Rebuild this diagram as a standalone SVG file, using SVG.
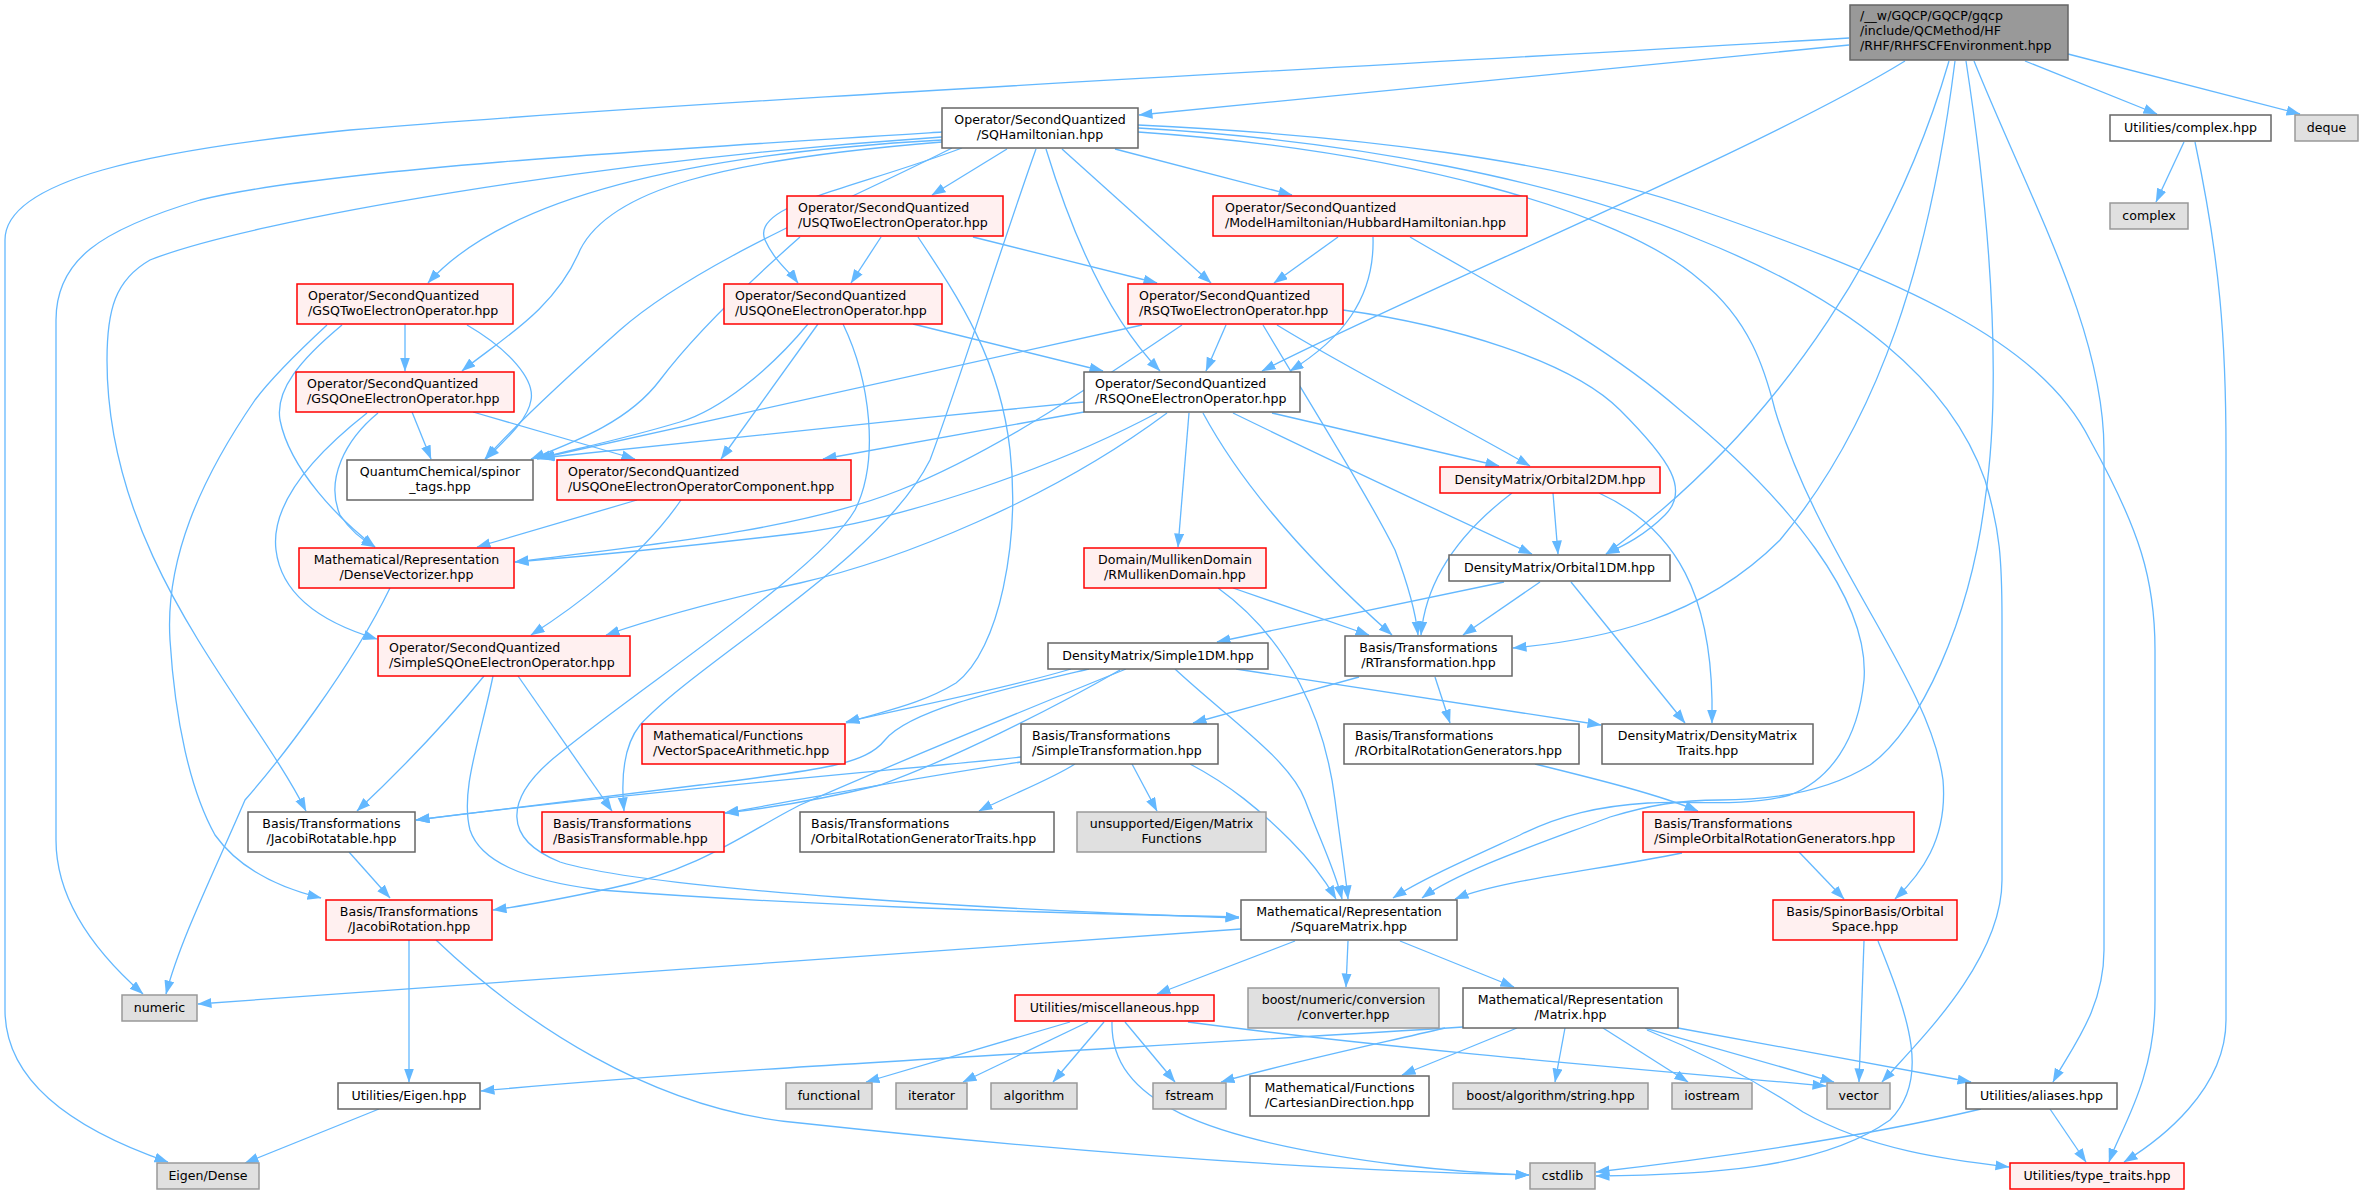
<svg xmlns="http://www.w3.org/2000/svg" width="2363" height="1195" viewBox="0 0 2363 1195">
<defs>
<marker id="ah" markerUnits="userSpaceOnUse" markerWidth="14" markerHeight="11" refX="13.5" refY="5" orient="auto">
<path d="M0,0 L14,5 L0,10 z" fill="#63b8ff"/>
</marker>
<style>
.e{fill:none;stroke:#63b8ff;stroke-width:1.3;marker-end:url(#ah)}
.nd{fill:#ffffff;stroke:#666666;stroke-width:1.5}
.nr{fill:#fff0f0;stroke:#ff0000;stroke-width:1.5}
.nx{fill:#e0e0e0;stroke:#999999;stroke-width:1.5}
.nroot{fill:#999999;stroke:#666666;stroke-width:1.5}
text{font-family:"DejaVu Sans","Liberation Sans",sans-serif;font-size:12.6px;fill:#000000}
.m{text-anchor:middle}
</style>
</defs>
<rect width="2363" height="1195" fill="#ffffff"/>
<g id="edges">
<path class="e" d="M1849,38 C1400,65 700,100 350,130 C150,150 5,180 5,240 L5,1010 C5,1090 90,1135 168,1162"/>
<path class="e" d="M1849,45 L1139,115"/>
<path class="e" d="M1905,61 C1760,150 1420,290 1262,371"/>
<path class="e" d="M1949,61 C1900,230 1790,420 1606,554"/>
<path class="e" d="M1955,61 C1930,260 1880,420 1780,540 C1700,620 1600,640 1513,648"/>
<path class="e" d="M1966,61 C1995,250 2000,400 1985,500 C1970,620 1920,730 1870,765 C1830,790 1780,800 1720,800 C1680,800 1650,805 1610,817 C1550,840 1460,870 1422,898"/>
<path class="e" d="M1974,61 C2030,200 2104,330 2104,450 L2104,950 C2104,1010 2070,1050 2053,1082"/>
<path class="e" d="M2025,61 L2157,114"/>
<path class="e" d="M2068,54 L2300,114"/>
<path class="e" d="M2184,142 L2156,202"/>
<path class="e" d="M2195,142 C2220,260 2226,340 2226,450 L2226,1020 C2226,1090 2160,1140 2124,1162"/>
<path class="e" d="M942,132 C650,150 320,170 200,200 C100,230 56,260 56,320 L56,840 C56,910 110,965 143,994"/>
<path class="e" d="M942,137 C600,160 250,220 150,260 C115,280 107,310 107,360 C107,560 250,700 306,811"/>
<path class="e" d="M942,140 C760,150 520,180 428,283"/>
<path class="e" d="M942,142 C720,160 610,190 580,250 C555,310 500,340 462,371"/>
<path class="e" d="M952,148 C850,200 700,260 620,330 C575,370 520,420 485,459"/>
<path class="e" d="M962,148 C850,190 750,205 765,240 C775,262 790,272 798,283"/>
<path class="e" d="M1007,149 L932,195"/>
<path class="e" d="M1036,149 C1000,250 960,380 930,460 C880,560 700,660 640,725 C620,750 622,790 624,811"/>
<path class="e" d="M1046,149 C1080,260 1120,330 1160,371"/>
<path class="e" d="M1062,149 L1211,283"/>
<path class="e" d="M1115,149 L1292,195"/>
<path class="e" d="M1138,125 C1350,135 1560,160 1700,210 C1900,280 2040,340 2090,440 C2140,530 2155,580 2155,650 L2155,1000 C2155,1080 2120,1130 2109,1162"/>
<path class="e" d="M1138,128 C1350,140 1560,180 1700,240 C1850,300 1950,380 1985,480 C2000,530 2002,560 2002,620 L2002,880 C2002,960 1920,1040 1882,1082"/>
<path class="e" d="M1138,132 C1400,150 1620,210 1700,280 C1750,320 1765,370 1775,410 C1820,560 1930,680 1943,780 C1948,840 1920,875 1895,899"/>
<path class="e" d="M843,324 C870,380 880,460 855,510 C820,570 650,680 560,753 C500,800 505,840 560,862 C650,890 1000,910 1239,918"/>
<path class="e" d="M493,676 C480,740 460,790 470,830 C480,860 520,880 600,890 C800,905 1000,912 1239,917"/>
<path class="e" d="M881,237 L851,283"/>
<path class="e" d="M973,237 L1157,283"/>
<path class="e" d="M800,237 C740,290 690,340 660,380 C630,420 580,440 531,459"/>
<path class="e" d="M918,237 C960,300 1000,360 1010,450 C1020,540 1000,650 956,683 C920,705 880,712 846,723"/>
<path class="e" d="M405,324 L405,371"/>
<path class="e" d="M467,325 C510,350 535,380 531,400 C528,420 505,440 486,459"/>
<path class="e" d="M342,325 C300,360 275,390 280,420 C290,470 340,520 375,547"/>
<path class="e" d="M327,325 C300,350 270,380 255,400 C200,480 165,560 170,640 C175,720 190,790 215,835 C240,870 280,888 321,898"/>
<path class="e" d="M412,412 L431,459"/>
<path class="e" d="M473,412 L635,459"/>
<path class="e" d="M378,413 C345,440 325,480 340,515 C350,530 362,540 375,547"/>
<path class="e" d="M367,413 C320,450 270,500 276,550 C282,600 330,625 377,639"/>
<path class="e" d="M808,324 C770,370 720,410 680,422 C620,440 570,450 537,459"/>
<path class="e" d="M818,324 L721,459"/>
<path class="e" d="M913,324 L1103,371"/>
<path class="e" d="M1338,237 L1274,283"/>
<path class="e" d="M1373,237 C1375,300 1340,340 1290,371"/>
<path class="e" d="M1410,237 C1500,290 1600,340 1680,410 C1790,500 1870,600 1864,680 C1858,740 1830,780 1790,795 C1740,808 1690,800 1648,803 C1600,806 1560,815 1520,835 C1470,858 1420,880 1393,898"/>
<path class="e" d="M1226,325 L1206,371"/>
<path class="e" d="M1142,325 L541,458"/>
<path class="e" d="M1182,325 C1100,380 1000,450 900,490 C800,530 650,545 515,562"/>
<path class="e" d="M1263,325 C1320,420 1370,500 1395,550 C1410,590 1416,615 1418,635"/>
<path class="e" d="M1277,325 C1350,370 1450,420 1530,466"/>
<path class="e" d="M1343,310 C1450,325 1570,360 1620,410 C1670,460 1690,490 1665,515 C1645,535 1625,545 1606,554"/>
<path class="e" d="M1084,402 C900,420 700,440 541,458"/>
<path class="e" d="M1084,412 L823,459"/>
<path class="e" d="M1157,413 C1050,470 900,520 800,533 C700,545 600,555 515,562"/>
<path class="e" d="M1167,413 C1050,500 900,560 800,583 C720,600 650,620 606,635"/>
<path class="e" d="M1189,413 L1178,547"/>
<path class="e" d="M1203,413 C1250,500 1330,580 1392,635"/>
<path class="e" d="M1233,413 C1350,470 1480,530 1532,554"/>
<path class="e" d="M1272,413 L1499,466"/>
<path class="e" d="M637,500 L477,547"/>
<path class="e" d="M681,500 C640,560 570,610 531,635"/>
<path class="e" d="M1512,493 C1450,540 1425,590 1421,635"/>
<path class="e" d="M1553,493 L1558,554"/>
<path class="e" d="M1599,493 C1680,530 1710,600 1712,700 L1712,723"/>
<path class="e" d="M390,588 C350,670 280,760 245,800 C215,870 180,940 166,994"/>
<path class="e" d="M1233,588 L1369,635"/>
<path class="e" d="M1218,588 C1290,640 1325,720 1335,800 C1340,840 1345,870 1348,899"/>
<path class="e" d="M1504,582 L1217,642"/>
<path class="e" d="M1540,582 L1463,635"/>
<path class="e" d="M1571,582 L1685,723"/>
<path class="e" d="M484,676 C440,730 390,780 357,811"/>
<path class="e" d="M518,676 L612,811"/>
<path class="e" d="M1071,669 C1000,690 920,705 846,722"/>
<path class="e" d="M1089,669 C1000,690 910,710 885,740 C865,765 820,770 700,785 C600,798 500,810 416,820"/>
<path class="e" d="M1120,670 C1050,710 950,760 880,785 C820,800 770,808 725,813"/>
<path class="e" d="M1126,669 C1000,720 880,770 800,805 C750,830 700,870 612,888 C570,897 530,905 493,910"/>
<path class="e" d="M1175,669 C1230,720 1290,760 1305,800 C1320,840 1335,870 1342,899"/>
<path class="e" d="M1236,669 L1601,725"/>
<path class="e" d="M1359,677 L1193,723"/>
<path class="e" d="M1435,677 L1450,723"/>
<path class="e" d="M1021,757 C900,770 650,790 416,820"/>
<path class="e" d="M1021,762 C900,780 800,800 725,813"/>
<path class="e" d="M1075,764 C1050,780 1010,795 979,811"/>
<path class="e" d="M1132,764 L1157,811"/>
<path class="e" d="M1190,764 C1230,785 1260,810 1290,840 C1310,860 1325,880 1336,899"/>
<path class="e" d="M1535,764 C1600,780 1660,795 1698,811"/>
<path class="e" d="M349,852 L390,898"/>
<path class="e" d="M1799,852 L1844,899"/>
<path class="e" d="M1682,853 C1600,870 1500,880 1455,899"/>
<path class="e" d="M409,940 L409,1082"/>
<path class="e" d="M436,940 C520,1020 650,1110 800,1123 C1050,1150 1300,1170 1529,1175"/>
<path class="e" d="M1241,929 L198,1004"/>
<path class="e" d="M1295,941 L1157,994"/>
<path class="e" d="M1348,941 L1346,987"/>
<path class="e" d="M1400,941 L1514,987"/>
<path class="e" d="M1070,1022 L866,1082"/>
<path class="e" d="M1088,1022 L963,1082"/>
<path class="e" d="M1104,1022 L1053,1082"/>
<path class="e" d="M1125,1022 L1175,1082"/>
<path class="e" d="M1112,1022 C1110,1100 1200,1140 1400,1165 C1460,1172 1500,1174 1529,1175"/>
<path class="e" d="M1188,1022 C1400,1050 1650,1070 1826,1086"/>
<path class="e" d="M1463,1027 C1100,1050 700,1070 481,1091"/>
<path class="e" d="M1445,1028 C1350,1050 1280,1065 1221,1082"/>
<path class="e" d="M1517,1028 L1402,1075"/>
<path class="e" d="M1565,1028 L1555,1082"/>
<path class="e" d="M1603,1028 L1688,1082"/>
<path class="e" d="M1645,1028 L1834,1082"/>
<path class="e" d="M1678,1028 L1971,1082"/>
<path class="e" d="M1647,1030 C1720,1060 1770,1090 1803,1112 C1870,1150 1950,1160 2009,1167"/>
<path class="e" d="M1864,941 L1859,1082"/>
<path class="e" d="M1878,941 C1910,1020 1930,1080 1890,1120 C1820,1170 1700,1175 1596,1176"/>
<path class="e" d="M1981,1109 C1850,1140 1700,1160 1596,1172"/>
<path class="e" d="M2050,1109 L2086,1162"/>
<path class="e" d="M379,1109 L245,1163"/>
</g>
<g id="n_root"><rect class="nroot" x="1850" y="5" width="218" height="55"/><text x="1860" y="20">/__w/GQCP/GQCP/gqcp</text><text x="1860" y="35">/include/QCMethod/HF</text><text x="1860" y="50">/RHF/RHFSCFEnvironment.hpp</text></g>
<g id="n_sqham"><rect class="nd" x="942" y="108" width="196" height="40"/><text class="m" x="1040" y="124">Operator/SecondQuantized</text><text class="m" x="1040" y="139">/SQHamiltonian.hpp</text></g>
<g id="n_usqtwo"><rect class="nr" x="787" y="196" width="216" height="40"/><text x="798" y="212">Operator/SecondQuantized</text><text x="798" y="227">/USQTwoElectronOperator.hpp</text></g>
<g id="n_hubbard"><rect class="nr" x="1213" y="196" width="314" height="40"/><text x="1225" y="212">Operator/SecondQuantized</text><text x="1225" y="227">/ModelHamiltonian/HubbardHamiltonian.hpp</text></g>
<g id="n_gsqtwo"><rect class="nr" x="297" y="284" width="216" height="40"/><text x="308" y="300">Operator/SecondQuantized</text><text x="308" y="315">/GSQTwoElectronOperator.hpp</text></g>
<g id="n_usqone"><rect class="nr" x="724" y="284" width="218" height="40"/><text x="735" y="300">Operator/SecondQuantized</text><text x="735" y="315">/USQOneElectronOperator.hpp</text></g>
<g id="n_rsqtwo"><rect class="nr" x="1128" y="284" width="215" height="40"/><text x="1139" y="300">Operator/SecondQuantized</text><text x="1139" y="315">/RSQTwoElectronOperator.hpp</text></g>
<g id="n_gsqone"><rect class="nr" x="296" y="372" width="218" height="40"/><text x="307" y="388">Operator/SecondQuantized</text><text x="307" y="403">/GSQOneElectronOperator.hpp</text></g>
<g id="n_rsqone"><rect class="nd" x="1084" y="372" width="216" height="40"/><text x="1095" y="388">Operator/SecondQuantized</text><text x="1095" y="403">/RSQOneElectronOperator.hpp</text></g>
<g id="n_spinor"><rect class="nd" x="347" y="460" width="186" height="40"/><text class="m" x="440" y="476">QuantumChemical/spinor</text><text class="m" x="440" y="491">_tags.hpp</text></g>
<g id="n_usqonecomp"><rect class="nr" x="557" y="460" width="294" height="40"/><text x="568" y="476">Operator/SecondQuantized</text><text x="568" y="491">/USQOneElectronOperatorComponent.hpp</text></g>
<g id="n_orb2dm"><rect class="nr" x="1440" y="467" width="220" height="26"/><text class="m" x="1550" y="484">DensityMatrix/Orbital2DM.hpp</text></g>
<g id="n_densevec"><rect class="nr" x="299" y="548" width="215" height="40"/><text class="m" x="406.5" y="564">Mathematical/Representation</text><text class="m" x="406.5" y="579">/DenseVectorizer.hpp</text></g>
<g id="n_rmulliken"><rect class="nr" x="1084" y="548" width="182" height="40"/><text class="m" x="1175" y="564">Domain/MullikenDomain</text><text class="m" x="1175" y="579">/RMullikenDomain.hpp</text></g>
<g id="n_orb1dm"><rect class="nd" x="1449" y="555" width="221" height="26"/><text class="m" x="1559.5" y="572">DensityMatrix/Orbital1DM.hpp</text></g>
<g id="n_simplesqone"><rect class="nr" x="378" y="636" width="252" height="40"/><text x="389" y="652">Operator/SecondQuantized</text><text x="389" y="667">/SimpleSQOneElectronOperator.hpp</text></g>
<g id="n_simple1dm"><rect class="nd" x="1048" y="643" width="220" height="26"/><text class="m" x="1158" y="660">DensityMatrix/Simple1DM.hpp</text></g>
<g id="n_rtrans"><rect class="nd" x="1345" y="636" width="167" height="40"/><text class="m" x="1428.5" y="652">Basis/Transformations</text><text class="m" x="1428.5" y="667">/RTransformation.hpp</text></g>
<g id="n_vsa"><rect class="nr" x="642" y="724" width="203" height="40"/><text x="653" y="740">Mathematical/Functions</text><text x="653" y="755">/VectorSpaceArithmetic.hpp</text></g>
<g id="n_simpletrans"><rect class="nd" x="1021" y="724" width="197" height="40"/><text x="1032" y="740">Basis/Transformations</text><text x="1032" y="755">/SimpleTransformation.hpp</text></g>
<g id="n_rorbrot"><rect class="nd" x="1344" y="724" width="235" height="40"/><text x="1355" y="740">Basis/Transformations</text><text x="1355" y="755">/ROrbitalRotationGenerators.hpp</text></g>
<g id="n_dmtraits"><rect class="nd" x="1602" y="724" width="211" height="40"/><text class="m" x="1707.5" y="740">DensityMatrix/DensityMatrix</text><text class="m" x="1707.5" y="755">Traits.hpp</text></g>
<g id="n_jacobirotatable"><rect class="nd" x="248" y="812" width="167" height="40"/><text class="m" x="331.5" y="828">Basis/Transformations</text><text class="m" x="331.5" y="843">/JacobiRotatable.hpp</text></g>
<g id="n_basistransformable"><rect class="nr" x="542" y="812" width="182" height="40"/><text x="553" y="828">Basis/Transformations</text><text x="553" y="843">/BasisTransformable.hpp</text></g>
<g id="n_orgtraits"><rect class="nd" x="800" y="812" width="254" height="40"/><text x="811" y="828">Basis/Transformations</text><text x="811" y="843">/OrbitalRotationGeneratorTraits.hpp</text></g>
<g id="n_unsupported"><rect class="nx" x="1077" y="812" width="189" height="40"/><text class="m" x="1171.5" y="828">unsupported/Eigen/Matrix</text><text class="m" x="1171.5" y="843">Functions</text></g>
<g id="n_simpleorbrot"><rect class="nr" x="1643" y="812" width="271" height="40"/><text x="1654" y="828">Basis/Transformations</text><text x="1654" y="843">/SimpleOrbitalRotationGenerators.hpp</text></g>
<g id="n_jacobirotation"><rect class="nr" x="326" y="900" width="166" height="40"/><text class="m" x="409" y="916">Basis/Transformations</text><text class="m" x="409" y="931">/JacobiRotation.hpp</text></g>
<g id="n_squarematrix"><rect class="nd" x="1241" y="900" width="216" height="40"/><text class="m" x="1349" y="916">Mathematical/Representation</text><text class="m" x="1349" y="931">/SquareMatrix.hpp</text></g>
<g id="n_orbitalspace"><rect class="nr" x="1773" y="900" width="184" height="40"/><text class="m" x="1865" y="916">Basis/SpinorBasis/Orbital</text><text class="m" x="1865" y="931">Space.hpp</text></g>
<g id="n_numeric"><rect class="nx" x="122" y="995" width="75" height="26"/><text class="m" x="159.5" y="1012">numeric</text></g>
<g id="n_misc"><rect class="nr" x="1015" y="995" width="199" height="26"/><text class="m" x="1114.5" y="1012">Utilities/miscellaneous.hpp</text></g>
<g id="n_converter"><rect class="nx" x="1248" y="988" width="191" height="40"/><text class="m" x="1343.5" y="1004">boost/numeric/conversion</text><text class="m" x="1343.5" y="1019">/converter.hpp</text></g>
<g id="n_matrix"><rect class="nd" x="1463" y="988" width="215" height="40"/><text class="m" x="1570.5" y="1004">Mathematical/Representation</text><text class="m" x="1570.5" y="1019">/Matrix.hpp</text></g>
<g id="n_eigenhpp"><rect class="nd" x="338" y="1083" width="142" height="26"/><text class="m" x="409" y="1100">Utilities/Eigen.hpp</text></g>
<g id="n_functional"><rect class="nx" x="786" y="1083" width="86" height="26"/><text class="m" x="829" y="1100">functional</text></g>
<g id="n_iterator"><rect class="nx" x="896" y="1083" width="71" height="26"/><text class="m" x="931.5" y="1100">iterator</text></g>
<g id="n_algorithm"><rect class="nx" x="991" y="1083" width="86" height="26"/><text class="m" x="1034" y="1100">algorithm</text></g>
<g id="n_fstream"><rect class="nx" x="1153" y="1083" width="73" height="26"/><text class="m" x="1189.5" y="1100">fstream</text></g>
<g id="n_cartesian"><rect class="nd" x="1250" y="1076" width="179" height="40"/><text class="m" x="1339.5" y="1092">Mathematical/Functions</text><text class="m" x="1339.5" y="1107">/CartesianDirection.hpp</text></g>
<g id="n_string"><rect class="nx" x="1453" y="1083" width="195" height="26"/><text class="m" x="1550.5" y="1100">boost/algorithm/string.hpp</text></g>
<g id="n_iostream"><rect class="nx" x="1672" y="1083" width="80" height="26"/><text class="m" x="1712" y="1100">iostream</text></g>
<g id="n_vector"><rect class="nx" x="1827" y="1083" width="63" height="26"/><text class="m" x="1858.5" y="1100">vector</text></g>
<g id="n_aliases"><rect class="nd" x="1966" y="1083" width="151" height="26"/><text class="m" x="2041.5" y="1100">Utilities/aliases.hpp</text></g>
<g id="n_eigendense"><rect class="nx" x="157" y="1163" width="102" height="26"/><text class="m" x="208" y="1180">Eigen/Dense</text></g>
<g id="n_cstdlib"><rect class="nx" x="1530" y="1163" width="65" height="26"/><text class="m" x="1562.5" y="1180">cstdlib</text></g>
<g id="n_typetraits"><rect class="nr" x="2010" y="1163" width="174" height="26"/><text class="m" x="2097" y="1180">Utilities/type_traits.hpp</text></g>
<g id="n_complexhpp"><rect class="nd" x="2110" y="115" width="161" height="26"/><text class="m" x="2190.5" y="132">Utilities/complex.hpp</text></g>
<g id="n_deque"><rect class="nx" x="2295" y="115" width="63" height="26"/><text class="m" x="2326.5" y="132">deque</text></g>
<g id="n_complex"><rect class="nx" x="2110" y="203" width="78" height="26"/><text class="m" x="2149" y="220">complex</text></g>
</svg>
